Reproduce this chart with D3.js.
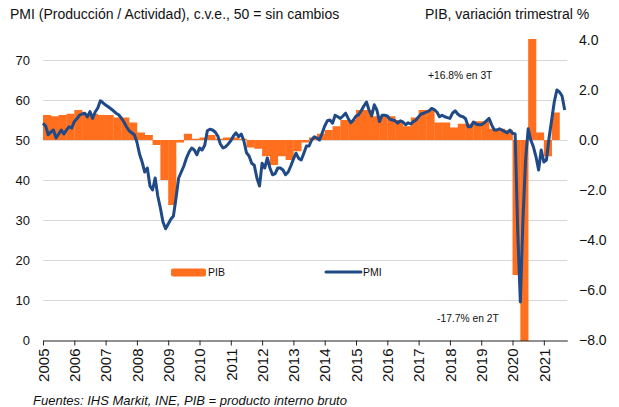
<!DOCTYPE html>
<html>
<head>
<meta charset="utf-8">
<script src="https://cdn.jsdelivr.net/npm/d3@7"></script>
<style>
body { margin: 0; background: #fff; }
svg { font-family: "Liberation Sans", Arial, sans-serif; }
</style>
</head>
<body>
<svg class="chart" width="619" height="407"></svg>
<script>
// PIB, variación trimestral %, 2005T1 .. 2021T2
var pib = [
	1.0, 0.95, 1.0, 1.05,
	1.2, 1.05, 1.05, 1.0,
	1.0, 0.9, 0.9, 0.7,
	0.3, 0.2, -0.2, -1.6,
	-2.6, -0.1, 0.25, 0.05,
	0.1, 0.2, 0.05, 0.1,
	0.1, 0.05, -0.3, -0.35,
	-0.65, -1.0, -0.65, -0.8,
	-0.45, -0.1, 0.1, 0.25,
	0.4, 0.55, 0.8, 0.8,
	1.2, 1.2, 0.95, 0.95,
	0.95, 0.8, 0.55, 0.9,
	1.2, 1.2, 0.7, 0.7,
	0.5, 0.65, 0.65, 0.75,
	0.75, 0.45, 0.45, 0.4,
	-5.4, -17.7, 16.8, 0.3,
	-0.65, 1.1
];

// PMI compuesto mensual, ene 2005 .. sep 2021
var pmi = [
	54.2, 53.5, 51.3, 52, 52.5, 50.5, 51.5, 52.5, 51.5, 52.5, 53.3, 53,
	54.6, 55.3, 56.2, 56.5, 56.7, 55.8, 57.1, 55.4, 57, 58, 59.8, 59.3,
	58.75, 58.3, 57.8, 57.3, 56.7, 56.3, 55.5, 54.5, 53.3, 52.3, 51.8, 51.3,
	49.5, 46.5, 44.5, 42, 43, 38.5, 37.5, 40.5, 36, 33, 29.5, 27.8,
	29, 30.2, 31, 35.5, 40.5, 42, 43.5, 45.5, 47, 48, 47.5, 46.3,
	48, 47.5, 48.7, 52.3, 52.7, 52.5, 52, 51, 49, 48, 48.3, 49,
	49.8, 51, 51.8, 50.8, 51.5, 49.8, 46.8, 46, 44.2, 43.7, 40.5, 38.5,
	44.2, 43, 45.5, 43, 41.3, 41.6, 43, 43, 42.5, 41.3, 42, 43.5,
	45.2, 46.7, 45.4, 45, 46.7, 48.5, 48.5, 50, 50.8, 50.5, 50, 51.7,
	53.5, 54.8, 55, 54.2, 56.2, 55.8, 55.4, 56, 56.7, 55.4, 54.3, 55,
	56, 56.3, 57.3, 58.5, 59.5, 57.5, 56, 58.8, 57.5, 54.6, 56.2, 56.2,
	56, 55.2, 55, 54.8, 54.2, 54.8, 54.5, 53.8, 54.3, 54, 54.6, 55,
	55.8, 56.5, 56.7, 57, 57.3, 57.9, 57.6, 57, 55.8, 56.2, 55.8, 55.6,
	55.4, 56.7, 57.3, 56.5, 56, 55.8, 55.3, 53.3, 53.3, 54.5, 54, 53.8,
	53.8, 54.2, 54.8, 55.4, 53.8, 52.5, 52.5, 52.8, 52.5, 52.1, 51.8, 52.5,
	51.7, 51.5, 27, 9.5, 30, 45, 52.8, 50, 48.3, 45.8, 42.5, 47.5,
	44.5, 45, 50.5, 55, 59.5, 62.5, 62, 61, 57.5
];

var years = d3.range(2005, 2022);
var leftTicks = [0, 10, 20, 30, 40, 50, 60, 70];
var rightTicks = [4, 2, 0, -2, -4, -6, -8];

var orange = "#ff6f1e",
	blue = "#1f4a86",
	grid = "#d9d9d9";

var svg = d3.select(".chart");

var x = d3.scaleLinear().domain([2005, 2021.75]).range([43, 567.3]);
var yL = d3.scaleLinear().domain([0, 75]).range([340, 40]);
var yR = d3.scaleLinear().domain([-8, 4]).range([340, 40]);

// grid
svg.append("g")
	.selectAll("line")
	.data(leftTicks.filter(function(d) { return d > 0; }))
	.enter()
	.append("line")
	.attr("x1", 43)
	.attr("x2", 567.3)
	.attr("y1", function(d) { return yL(d) + 0.5; })
	.attr("y2", function(d) { return yL(d) + 0.5; })
	.attr("stroke", grid)
	.attr("stroke-width", 1);

svg.append("clipPath")
	.attr("id", "plot")
	.append("rect")
	.attr("x", 40)
	.attr("y", 39)
	.attr("width", 540)
	.attr("height", 302);

// PIB bars
svg.append("g")
	.attr("clip-path", "url(#plot)")
	.selectAll("rect")
	.data(pib)
	.enter()
	.append("rect")
	.attr("x", function(d, i) { return x(2005 + i / 4); })
	.attr("width", function(d, i) { return x(2005 + (i + 1) / 4) - x(2005 + i / 4) + 0.3; })
	.attr("y", function(d) { return yR(Math.max(d, 0)); })
	.attr("height", function(d) { return Math.abs(yR(d) - yR(0)); })
	.attr("fill", orange);

// PMI line
var line = d3.line()
	.x(function(d, i) { return x(2005 + i / 12); })
	.y(function(d) { return yL(d); });

svg.append("path")
	.datum(pmi)
	.attr("d", line)
	.attr("fill", "none")
	.attr("stroke", blue)
	.attr("stroke-width", 3)
	.attr("stroke-linejoin", "round");

// x axis
var xAxis = svg.append("g")
	.attr("transform", "translate(0,340.5)")
	.call(d3.axisBottom(x).tickValues(years).tickSize(5).tickSizeOuter(0).tickFormat(d3.format("d")));
xAxis.select(".domain").attr("stroke", "#222");
xAxis.selectAll(".tick line").attr("stroke", "#222");
xAxis.selectAll(".tick text")
	.attr("transform", "rotate(-90)")
	.attr("text-anchor", "end")
	.attr("x", -8)
	.attr("y", 0)
	.attr("dy", "0.35em")
	.attr("font-size", 15)
	.attr("font-family", "Liberation Sans, Arial, sans-serif")
	.attr("fill", "#111");

// left labels
svg.append("g")
	.selectAll("text")
	.data(leftTicks)
	.enter()
	.append("text")
	.attr("x", 30)
	.attr("y", function(d) { return yL(d); })
	.attr("dy", "0.35em")
	.attr("text-anchor", "end")
	.attr("font-size", 13)
	.attr("fill", "#111")
	.text(function(d) { return d; });

// right labels
svg.append("g")
	.selectAll("text")
	.data(rightTicks)
	.enter()
	.append("text")
	.attr("x", 579)
	.attr("y", function(d) { return yR(d); })
	.attr("dy", "0.35em")
	.attr("font-size", 14)
	.attr("fill", "#111")
	.text(function(d) { return d3.format(".1f")(d); });

// titles
svg.append("text")
	.attr("x", 10)
	.attr("y", 19)
	.attr("font-size", 14)
	.attr("fill", "#111")
	.text("PMI (Producción / Actividad), c.v.e., 50 = sin cambios");

svg.append("text")
	.attr("x", 425)
	.attr("y", 19)
	.attr("font-size", 14)
	.attr("fill", "#111")
	.text("PIB, variación trimestral %");

// notes
svg.append("text")
	.attr("x", 428)
	.attr("y", 79)
	.attr("font-size", 10.3)
	.attr("fill", "#111")
	.text("+16.8% en 3T");

svg.append("text")
	.attr("x", 437)
	.attr("y", 322)
	.attr("font-size", 10.3)
	.attr("fill", "#111")
	.text("-17.7% en 2T");

// legend
svg.append("rect")
	.attr("x", 171)
	.attr("y", 268.5)
	.attr("width", 35)
	.attr("height", 8)
	.attr("rx", 2)
	.attr("fill", orange);
svg.append("text")
	.attr("x", 208)
	.attr("y", 276)
	.attr("font-size", 10.5)
	.attr("fill", "#111")
	.text("PIB");
svg.append("line")
	.attr("x1", 326)
	.attr("x2", 361)
	.attr("y1", 272)
	.attr("y2", 272)
	.attr("stroke", blue)
	.attr("stroke-width", 3)
	.attr("stroke-linecap", "round");
svg.append("text")
	.attr("x", 363)
	.attr("y", 276)
	.attr("font-size", 10.5)
	.attr("fill", "#111")
	.text("PMI");

svg.append("text")
	.attr("x", 33)
	.attr("y", 405)
	.attr("font-size", 13)
	.attr("font-style", "italic")
	.attr("fill", "#111")
	.text("Fuentes: IHS Markit, INE, PIB = producto interno bruto");
</script>
</body>
</html>
